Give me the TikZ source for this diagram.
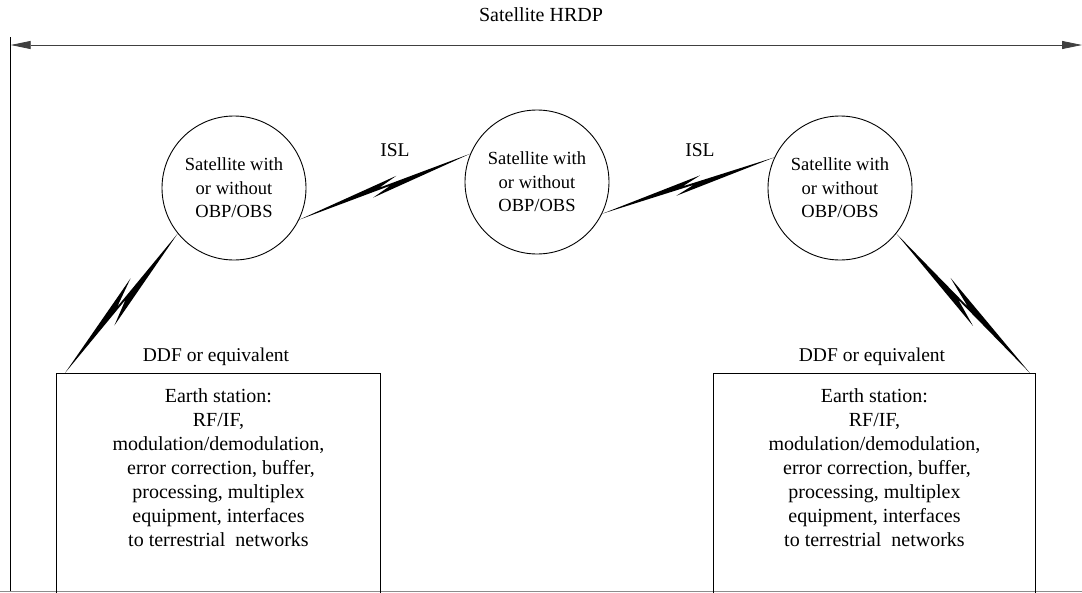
\documentclass[tikz,border=0pt]{standalone}
\usepackage{fontspec}
\setmainfont{Liberation Serif}
\usetikzlibrary{calc,arrows.meta}
% #1 A, #2 B, #3 spike width, #4 near spike pos, #5 far spike pos, #6/#7 side angles
\newcommand\boltpath[7]{%
  \fill (#1) -- ($(#1)!0.53!(#2)!1pt!#6:(#2)$) -- ($(#1)!#4!(#2)!#3!#6:(#2)$)
     -- (#2) -- ($(#1)!0.47!(#2)!1pt!#7:(#2)$) -- ($(#1)!#5!(#2)!#3!#7:(#2)$) -- cycle;}
\tikzset{
  txt/.style={font=\fontsize{19.5}{24}\selectfont, inner sep=0pt},
  sat/.style={inner sep=0pt, font=\fontsize{18.5}{23.5}\selectfont, circle, draw, line width=0.9pt, minimum size=144pt, align=center},
  ebox/.style={draw, line width=0.9pt, inner sep=0pt},
  etext/.style={inner sep=0pt, align=center, font=\fontsize{20}{24}\selectfont},
  frame/.style={line width=0.9pt},
  dim/.style={line width=0.8pt, black!75, {Triangle[length=20pt,width=8pt]}-{Triangle[length=20pt,width=8pt]}}
}
\begin{document}
\begin{tikzpicture}[x=1pt,y=-1pt]
\useasboundingbox (0,0) rectangle (1082,592);
% title and dimension arrow
\node[txt, font=\fontsize{20}{24}\selectfont] (title) at (541,15) {Satellite HRDP};
\coordinate (al) at (10.7,45);
\coordinate (ar) at (1082,45);
\coordinate (vt) at (10.7,37);
\coordinate (vb) at (10.7,592);
\draw[frame] (vt) -- (vb);
\draw[dim] (al) -- (ar);
\coordinate (bl) at (0,591.5);
\coordinate (br) at (1082,591.5);
\draw[black!45, line width=1pt] (bl) -- (br);
% satellites
\node[sat] (s1) at (234,188) {Satellite with\\or without\\OBP/OBS};
\node[sat] (s2) at (537,182) {Satellite with\\or without\\OBP/OBS};
\node[sat] (s3) at (840,188) {Satellite with\\or without\\OBP/OBS};
% earth stations
\node[ebox, anchor=north west, minimum width=324pt, minimum height=220pt] (e1) at (56,373) {};
\node[ebox, anchor=north west, minimum width=322pt, minimum height=220pt] (e2) at (713,373) {};
\node[etext, anchor=north] (t1) at ($(e1.north)+(0,15)$) {Earth station:\\RF/IF,\\modulation/demodulation,\\\ error correction, buffer,\\processing, multiplex\\equipment, interfaces\\to terrestrial\ \ networks};
\node[etext, anchor=north] (t2) at ($(e2.north)+(0,15)$) {Earth station:\\RF/IF,\\modulation/demodulation,\\\ error correction, buffer,\\processing, multiplex\\equipment, interfaces\\to terrestrial\ \ networks};
% labels
\node[txt] (d1) at (216,357) {DDF or equivalent};
\node[txt] (d2) at (872,357) {DDF or equivalent};
\node[txt] (i1) at (395,150) {ISL};
\node[txt] (i2) at (700,150) {ISL};
% radio links
\coordinate (e1c) at ($(e1.north west)+(9,0)$);
\coordinate (e2c) at ($(e2.north east)+(-6,0)$);
\boltpath{s1.219}{e1c}{8.5pt}{0.36}{0.62}{-90}{90}
\boltpath{s3.-39}{e2c}{8.5pt}{0.36}{0.62}{90}{-90}
\boltpath{s1.-26}{s2.157}{6pt}{0.42}{0.58}{-90}{90}
\boltpath{s2.-26}{s3.155}{6pt}{0.42}{0.58}{-90}{90}
\end{tikzpicture}
\end{document}
